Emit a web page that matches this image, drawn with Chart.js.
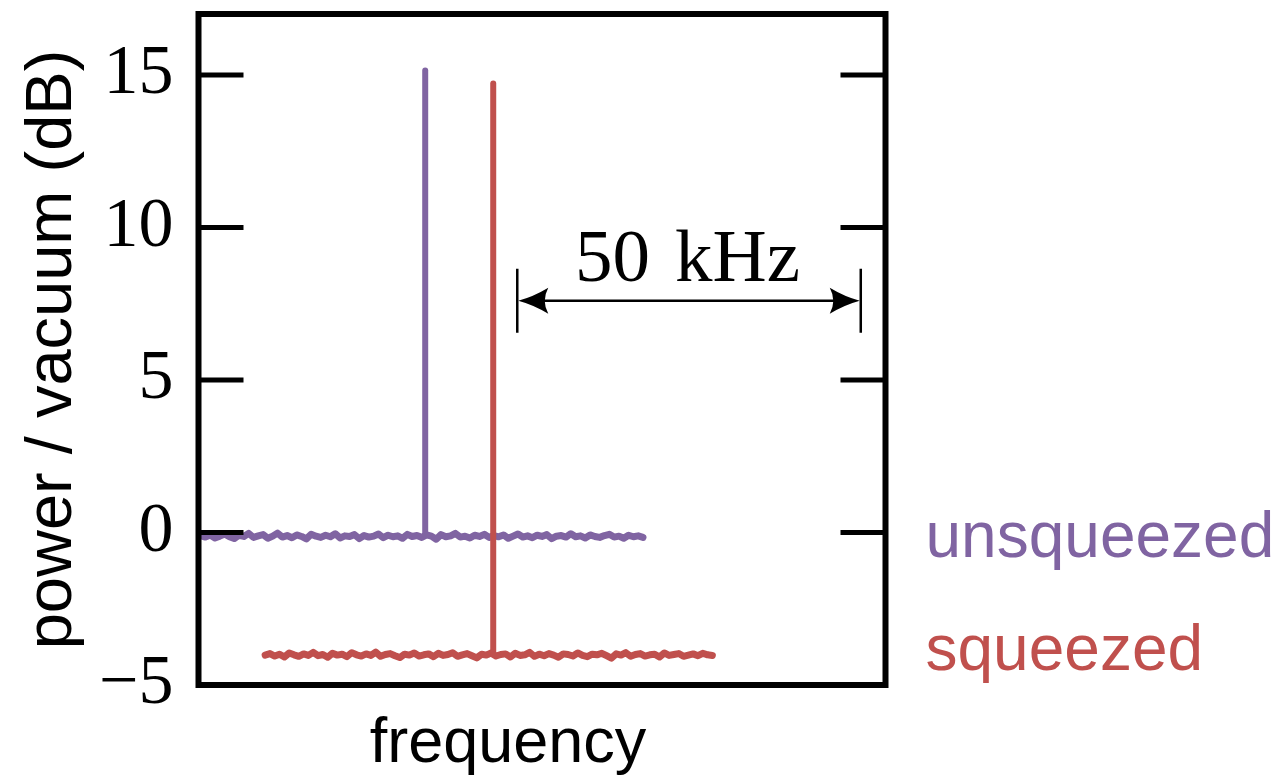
<!DOCTYPE html>
<html>
<head>
<meta charset="utf-8">
<script src="https://cdn.jsdelivr.net/npm/chart.js@4.4.1/dist/chart.umd.min.js"></script>
<style>
  body { margin: 0; background: #fff; }
</style>
</head>
<body>
<canvas id="myChart" width="1276" height="783"></canvas>
<script>
// frequency axis in kHz, power in dB
let yTicks = [-5, 0, 5, 10, 15];

// unsqueezed trace: starts at 0.3 kHz, one sample every 0.7 kHz
let unsqStart = 0.3, unsqStep = 0.7;
let unsqueezed = [
  -0.10,-0.15,-0.08,-0.18,-0.12,-0.05,-0.14,-0.20,-0.09,-0.13,
  -0.03,-0.16,-0.11,-0.07,-0.19,-0.12,-0.02,-0.15,-0.10,-0.17,
  -0.08,-0.13,-0.21,-0.06,-0.12,-0.16,-0.09,-0.14,-0.04,-0.18,
  -0.11,-0.13,-0.07,-0.20,-0.10,-0.15,-0.12,-0.05,-0.17,-0.09,
  -0.14,-0.11,-0.19,-0.06,-0.13,-0.10,-0.16,-0.08,-0.12,-0.22,
  -0.07,-0.14,-0.11,-0.03,-0.15,-0.12,-0.18,-0.09,-0.13,-0.06,
  -0.16,-0.10,-0.14,-0.08,-0.19,-0.12,-0.05,-0.15,-0.11,-0.17,
  -0.09,-0.13,-0.07,-0.20,-0.12,-0.10,-0.15,-0.04,-0.14,-0.11,
  -0.18,-0.08,-0.13,-0.16,-0.10,-0.06,-0.15,-0.12,-0.19,-0.09,
  -0.14,-0.11,-0.16
];
let unsqPeak = { x: 33.0, base: -0.10, top: 15.15 };

// squeezed trace: starts at 9.7 kHz, one sample every 0.7 kHz
let sqStart = 9.7, sqStep = 0.7;
let squeezed = [
  -4.02,-3.97,-4.05,-3.99,-4.08,-3.95,-4.01,-4.06,-3.98,-4.03,
  -3.93,-4.04,-4.00,-4.09,-3.96,-4.02,-3.99,-4.07,-3.94,-4.01,
  -4.05,-3.98,-4.03,-3.92,-4.06,-4.00,-3.97,-4.04,-4.10,-3.99,
  -4.02,-3.95,-4.05,-4.01,-3.98,-4.07,-3.96,-4.03,-4.00,-3.94,
  -4.06,-4.01,-3.97,-4.04,-4.11,-3.99,-4.02,-3.95,-4.05,-4.00,
  -3.98,-4.08,-3.96,-4.03,-4.01,-3.93,-4.06,-3.99,-4.04,-3.97,
  -4.02,-4.09,-3.98,-4.00,-4.05,-3.95,-4.03,-4.07,-3.99,-4.01,
  -3.96,-4.04,-4.12,-3.98,-4.02,-3.94,-4.06,-4.00,-3.97,-4.05,
  -4.01,-3.99,-4.08,-3.95,-4.03,-4.00,-3.97,-4.06,-4.02,-3.98,
  -4.04,-3.96,-4.01,-4.03
];
let sqPeak = { x: 42.9, base: -4.0, top: 14.72 };

// 50 kHz marker
let spanFrom = 46.4, spanTo = 96.4, spanLevel = 7.6;

let purple = "#8064A2";
let red = "#C0504D";

function toPoints(start, step, values) {
    return values.map((v, i) => ({ x: +(start + i * step).toFixed(2), y: v }));
}

let framePlugin = {
    id: 'frame',
    afterDatasetsDraw(chart) {
        let ctx = chart.ctx;
        let a = chart.chartArea;
        let xs = chart.scales.x, ys = chart.scales.y;
        ctx.save();
        ctx.strokeStyle = "#000";
        // inward ticks both sides
        ctx.lineWidth = 5;
        yTicks.forEach(v => {
            let py = ys.getPixelForValue(v);
            ctx.beginPath();
            ctx.moveTo(a.left, py); ctx.lineTo(a.left + 45, py);
            ctx.moveTo(a.right, py); ctx.lineTo(a.right - 45, py);
            ctx.stroke();
        });
        // box
        ctx.lineWidth = 6;
        ctx.strokeRect(a.left, a.top, a.right - a.left, a.bottom - a.top);

        // 50 kHz arrow
        let x1 = xs.getPixelForValue(spanFrom), x2 = xs.getPixelForValue(spanTo);
        let y = ys.getPixelForValue(spanLevel);
        ctx.lineWidth = 2.5;
        ctx.beginPath();
        ctx.moveTo(x1, y - 32); ctx.lineTo(x1, y + 32);
        ctx.moveTo(x2, y - 32); ctx.lineTo(x2, y + 32);
        ctx.moveTo(x1 + 10, y); ctx.lineTo(x2 - 10, y);
        ctx.stroke();
        ctx.fillStyle = "#000";
        [[x1, 1], [x2, -1]].forEach(([tx, d]) => {
            ctx.beginPath();
            ctx.moveTo(tx + d * 1, y);
            ctx.quadraticCurveTo(tx + d * 16, y - 4, tx + d * 31, y - 13);
            ctx.quadraticCurveTo(tx + d * 24, y, tx + d * 31, y + 13);
            ctx.quadraticCurveTo(tx + d * 16, y + 4, tx + d * 1, y);
            ctx.fill();
        });
        let cx = (x1 + x2) / 2;
        ctx.font = "75px 'Liberation Serif'";
        ctx.textAlign = "left";
        ctx.textBaseline = "alphabetic";
        ctx.fillText("50", cx - 114, y - 20);
        ctx.fillText("kHz", cx - 14, y - 20);

        // side labels
        ctx.font = "64px 'Liberation Sans'";
        ctx.fillStyle = purple;
        ctx.fillText("unsqueezed", a.right + 40, ys.getPixelForValue(0) + 24);
        ctx.fillStyle = red;
        ctx.fillText("squeezed", a.right + 40, ys.getPixelForValue(-4) + 15);

        // x axis title
        ctx.fillStyle = "#000";
        ctx.font = "63px 'Liberation Sans'";
        ctx.textAlign = "center";
        ctx.fillText("frequency", 508, 762);
        ctx.restore();
    }
};

let ctx = document.getElementById('myChart').getContext('2d');
let chart = new Chart(ctx, {
    type: 'line',
    data: {
        datasets: [
            { label: 'squeezed peak', data: [{ x: sqPeak.x, y: sqPeak.base }, { x: sqPeak.x, y: sqPeak.top }],
              borderColor: red, borderWidth: 6, order: 0 },
            { label: 'squeezed', data: toPoints(sqStart, sqStep, squeezed),
              borderColor: red, borderWidth: 7, order: 1 },
            { label: 'unsqueezed peak', data: [{ x: unsqPeak.x, y: unsqPeak.base }, { x: unsqPeak.x, y: unsqPeak.top }],
              borderColor: purple, borderWidth: 6, order: 2 },
            { label: 'unsqueezed', data: toPoints(unsqStart, unsqStep, unsqueezed),
              borderColor: purple, borderWidth: 7, order: 3 }
        ]
    },
    options: {
        responsive: false,
        animation: false,
        elements: {
            point: { radius: 0 },
            line: { tension: 0, fill: false, borderCapStyle: 'round', borderJoinStyle: 'round' }
        },
        layout: { padding: { top: 14, bottom: 98, right: 390.5, left: 0 } },
        plugins: { legend: { display: false }, tooltip: { enabled: false } },
        scales: {
            x: { type: 'linear', min: 0, max: 100, display: false },
            y: {
                type: 'linear', min: -5, max: 17,
                afterBuildTicks: scale => { scale.ticks = yTicks.map(v => ({ value: v })); },
                afterFit: scale => {
                    scale.width = 198.5;
                    scale.paddingTop = 0;
                    scale.paddingBottom = 0;
                },
                grid: { display: false, drawTicks: false },
                border: { display: false },
                ticks: {
                    color: '#000', padding: 25, font: { family: 'Liberation Serif', size: 70 },
                    callback: v => String(v).replace('-', '\u2212')
                },
                title: {
                    display: true, text: 'power / vacuum (dB)', color: '#000',
                    font: { family: 'Liberation Sans', size: 65 }, padding: { top: 14, bottom: 0 }
                }
            }
        }
    },
    plugins: [framePlugin]
});
</script>
</body>
</html>
